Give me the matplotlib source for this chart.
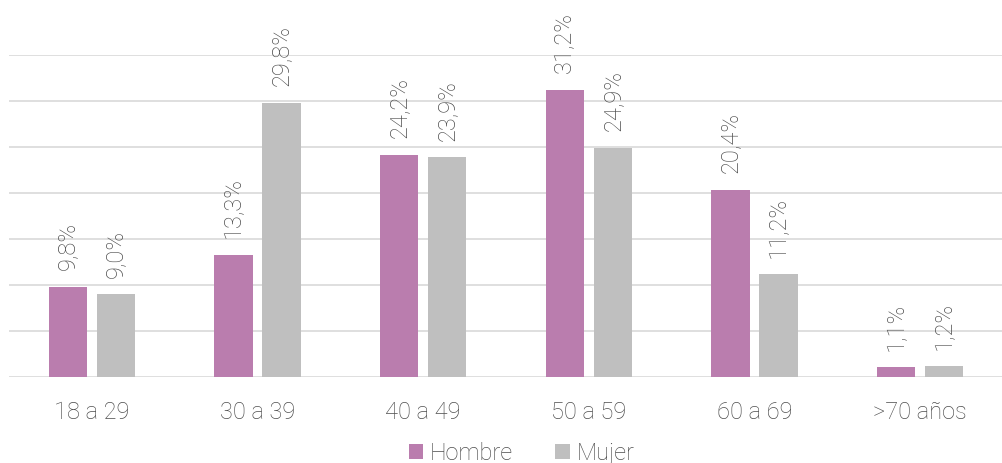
import numpy as np
import matplotlib.pyplot as plt

plt.rcParams['font.family'] = ['Roboto', 'DejaVu Sans']

categorias = ['18 a 29', '30 a 39', '40 a 49', '50 a 59', '60 a 69', '>70 años']
hombre = [9.8, 13.3, 24.2, 31.2, 20.4, 1.1]
mujer = [9.0, 29.8, 23.9, 24.9, 11.2, 1.2]

color_h = '#BA7DAE'
color_m = '#BFBFBF'
gris = '#4D4D4D'

fig = plt.figure(figsize=(10.03, 4.63), dpi=100)
ax = fig.add_axes([0.009, 0.185, 0.991, 0.696])

x = np.arange(len(categorias))
w = 0.23
off = 0.145
b1 = ax.bar(x - off, hombre, w, color=color_h, label='Hombre', zorder=3)
b2 = ax.bar(x + off, mujer, w, color=color_m, label='Mujer', zorder=3)

for bars, vals in [(b1, hombre), (b2, mujer)]:
    for b, v in zip(bars, vals):
        ax.annotate(f'{v:.1f}%'.replace('.', ','),
                    (b.get_x() + b.get_width() / 2, v),
                    xytext=(0, 12), textcoords='offset points',
                    rotation=90, ha='center', va='bottom',
                    fontsize=17, color=gris, fontweight='light',
                    annotation_clip=False)

ax.set_xlim(-0.5, len(categorias) - 0.5)
ax.set_ylim(0, 35)
ax.set_yticks(np.arange(0, 36, 5))
ax.yaxis.grid(True, color='#D9D9D9', linewidth=1.2, zorder=0)
ax.set_yticklabels([])
ax.tick_params(axis='y', length=0)
ax.tick_params(axis='x', length=0, pad=17)
ax.set_xticks(x)
ax.set_xticklabels(categorias, fontsize=17, color=gris, fontweight='light')
for s in ax.spines.values():
    s.set_visible(False)

fig.legend(loc='lower center', bbox_to_anchor=(0.52, -0.05), ncol=2, frameon=False,
           handlelength=0.6, handleheight=0.6, handletextpad=0.3,
           columnspacing=1.8, labelcolor=gris, prop={'weight': 'light', 'size': 17})

fig.savefig('out.png', dpi=100)
